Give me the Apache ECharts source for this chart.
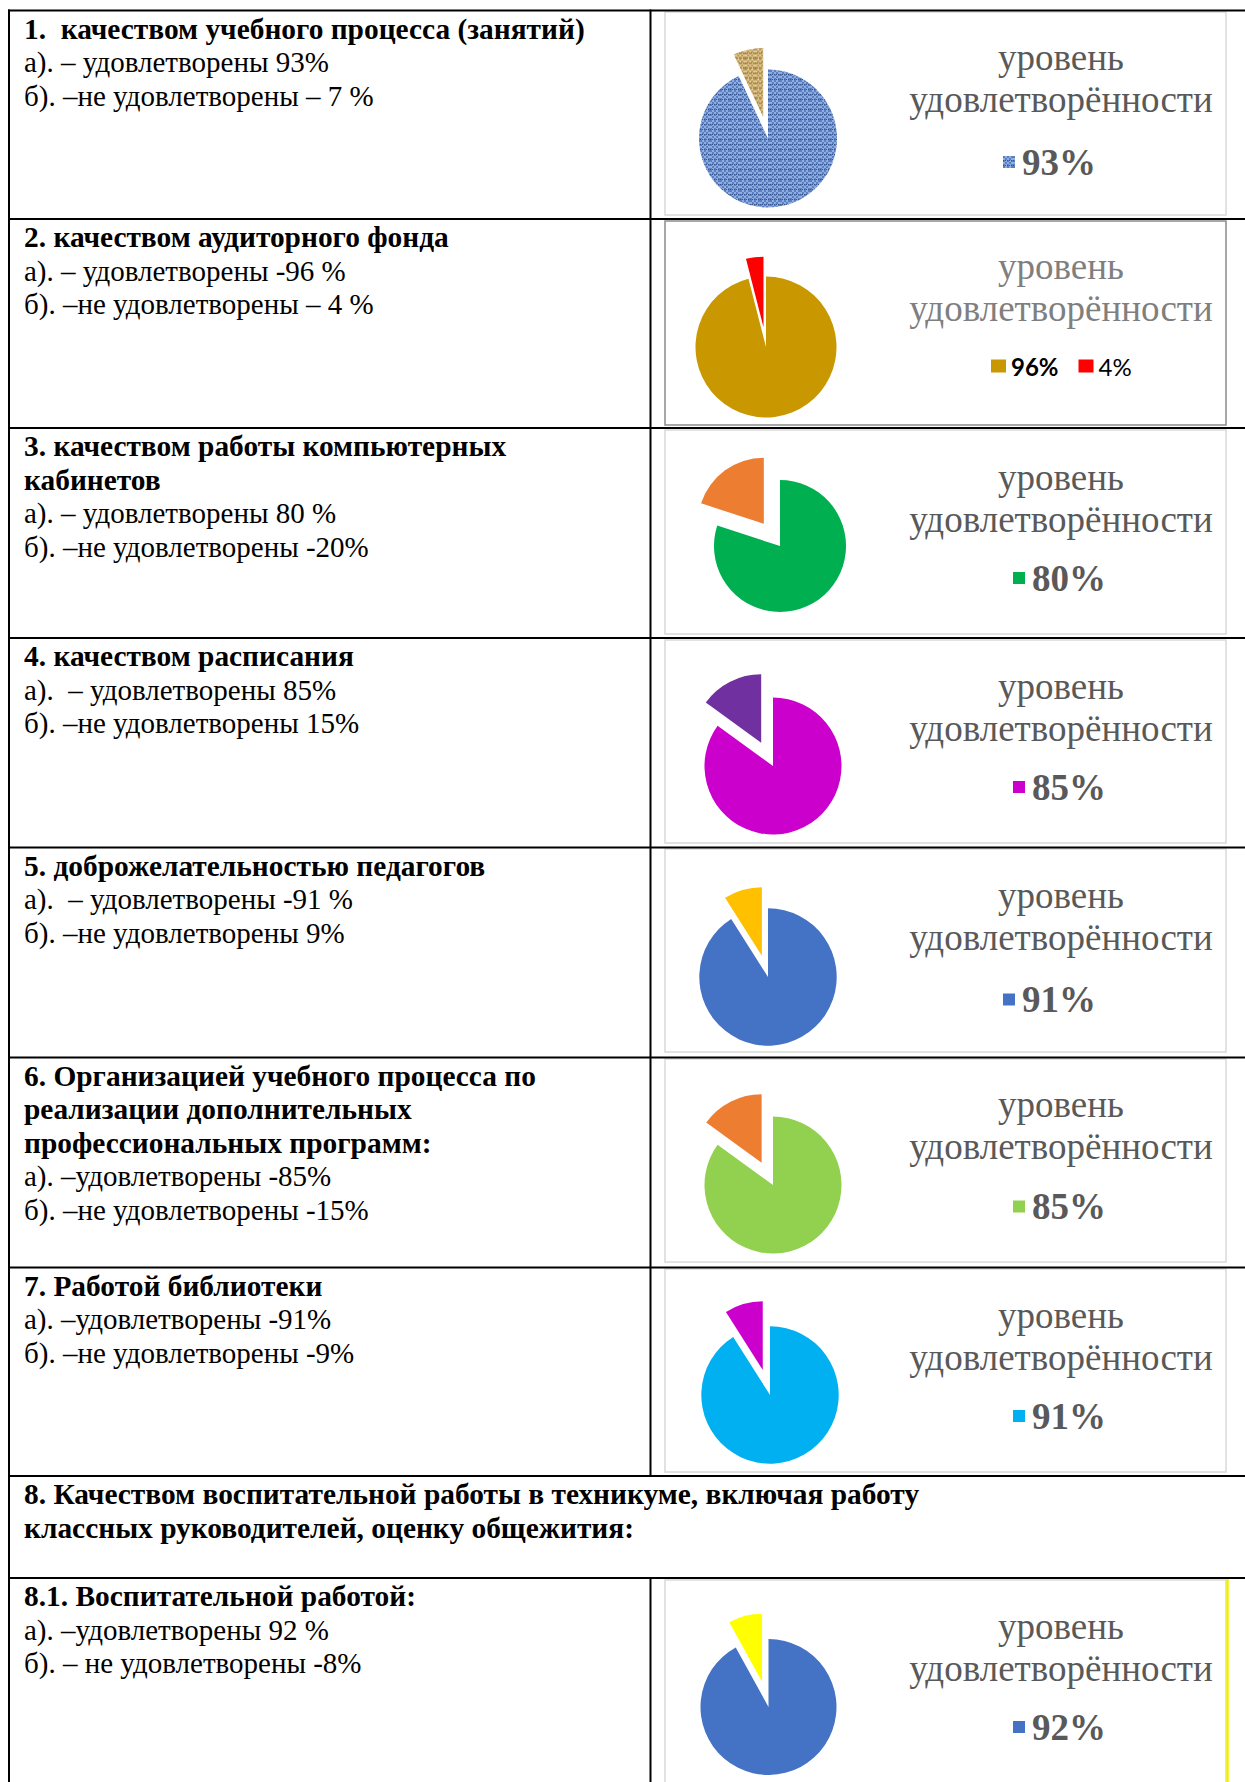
<!DOCTYPE html>
<html>
<head>
<meta charset="utf-8">
<script src="https://cdn.jsdelivr.net/npm/echarts@6/dist/echarts.min.js"></script>
<style>
html, body { margin: 0; padding: 0; background: #fff; }
#main { width: 1245px; height: 1782px; }
</style>
</head>
<body>
<div id="main"></div>
<script>
// values of the 8 pies (satisfied / not satisfied, %)
var satisfied = [93, 96, 80, 85, 91, 85, 91, 92];
var unsatisfied = [7, 4, 20, 15, 9, 15, 9, 8];
var okColors = ['weaveBlue', '#c99700', '#00b050', '#cc00cc', '#4472c4', '#92d050', '#00b0f0', '#4472c4'];
var badColors = ['weaveTan', '#ff0000', '#ed7d31', '#7030a0', '#ffc000', '#ed7d31', '#cc00cc', '#ffff00'];
var chartTitle = 'уровень\nудовлетворённости';

// left column texts: [text, bold]
var cellTexts = [
    [['1.  качеством учебного процесса (занятий)', 1], ['а). – удовлетворены 93%', 0], ['б). –не удовлетворены – 7 %', 0]],
    [['2. качеством аудиторного фонда', 1], ['а). – удовлетворены -96 %', 0], ['б). –не удовлетворены – 4 %', 0]],
    [['3. качеством работы компьютерных', 1], ['кабинетов', 1], ['а). – удовлетворены 80 %', 0], ['б). –не удовлетворены -20%', 0]],
    [['4. качеством расписания', 1], ['а).  – удовлетворены 85%', 0], ['б). –не удовлетворены 15%', 0]],
    [['5. доброжелательностью педагогов', 1], ['а).  – удовлетворены -91 %', 0], ['б). –не удовлетворены 9%', 0]],
    [['6. Организацией учебного процесса по', 1], ['реализации дополнительных', 1], ['профессиональных программ:', 1], ['а). –удовлетворены -85%', 0], ['б). –не удовлетворены -15%', 0]],
    [['7. Работой библиотеки', 1], ['а). –удовлетворены -91%', 0], ['б). –не удовлетворены -9%', 0]],
    [['8. Качеством воспитательной работы в техникуме, включая работу', 1], ['классных руководителей, оценку общежития:', 1]],
    [['8.1. Воспитательной работой:', 1], ['а). –удовлетворены 92 %', 0], ['б). – не удовлетворены -8%', 0]]
];

// layout
var serif = "'Liberation Serif', serif";
var rowLines = [10.5, 219, 428, 638, 847.5, 1057.5, 1267.5, 1476, 1578];
var boxTops = [12, 221, 430, 640, 849, 1059, 1269, 1580];
var boxBottoms = [215, 425, 634, 843, 1052, 1262, 1472, 1800];
var pieCenters = [[768, 138.5], [766, 347], [780, 546], [773, 766], [768, 977], [773, 1185], [770, 1395], [768.5, 1707]];
var pieRadius = [69, 70.5, 66, 68.5, 68.7, 68.5, 68.7, 68];
var pieOffsets = [22, 20, 27.5, 26, 22, 25, 26, 26];
var titleTops = [36, 245, 456, 665, 874, 1083, 1294, 1605];
var legendMid = [162, 366, 578, 787, 999.5, 1206.5, 1416, 1727];
var legendLeft = [1003, 991, 1013, 1013, 1003, 1013, 1013, 1013];

function weave(light, mid, dark) {
    var c = document.createElement('canvas');
    c.width = 10; c.height = 10;
    var g = c.getContext('2d');
    for (var y = 0; y < 10; y++) {
        for (var x = 0; x < 10; x++) {
            var t = ((x >> 1) + (y >> 1)) % 2;
            g.fillStyle = (y % 5 === 4 && x % 2 === 0) ? dark : (t ? light : mid);
            g.fillRect(x, y, 1, 1);
        }
    }
    return { image: c, repeat: 'repeat', imageWidth: 10, imageHeight: 10 };
}
var patterns = {
    weaveBlue: weave('#8eaee2', '#5b7fc1', '#34538f'),
    weaveTan: weave('#e3cc93', '#b8975a', '#7a5f30')
};
function col(c) { return patterns[c] || c; }

var graphics = [];
rowLines.forEach(function (y) {
    graphics.push({ type: 'line', shape: { x1: 8, y1: y, x2: 1245, y2: y }, style: { stroke: '#000', lineWidth: 2 } });
});
graphics.push({ type: 'line', shape: { x1: 9, y1: 9.5, x2: 9, y2: 1782 }, style: { stroke: '#000', lineWidth: 2 } });
graphics.push({ type: 'line', shape: { x1: 650.5, y1: 9.5, x2: 650.5, y2: 1476 }, style: { stroke: '#000', lineWidth: 2 } });
graphics.push({ type: 'line', shape: { x1: 650.5, y1: 1578, x2: 650.5, y2: 1782 }, style: { stroke: '#000', lineWidth: 2 } });

boxTops.forEach(function (t, i) {
    graphics.push({
        type: 'rect', z: -1,
        shape: { x: 665, y: t, width: 561, height: boxBottoms[i] - t },
        style: { fill: '#fff', stroke: i === 1 ? '#8c8c8c' : '#d9d9d9', lineWidth: 1.5 }
    });
});
graphics.push({ type: 'line', shape: { x1: 1227.5, y1: 1579, x2: 1227.5, y2: 1782 }, style: { stroke: '#f5f000', lineWidth: 2.5 } });

cellTexts.forEach(function (lines, r) {
    lines.forEach(function (ln, k) {
        graphics.push({
            type: 'text',
            style: {
                text: ln[0], x: 24, y: rowLines[r] + 18 + k * 33.6,
                fill: '#000', fontFamily: serif,
                fontSize: ln[1] ? 29.4 : 29, fontWeight: ln[1] ? 'bold' : 'normal', verticalAlign: 'middle'
            }
        });
    });
});

var labelOf = {};
satisfied.forEach(function (v, i) { labelOf['ok' + i] = v + '%'; labelOf['no' + i] = unsatisfied[i] + '%'; });

var titles = titleTops.map(function (t, i) {
    return {
        text: chartTitle, left: 1061, top: t, textAlign: 'center', padding: 0,
        textStyle: {
            fontFamily: serif, fontSize: 37, fontWeight: 'normal',
            lineHeight: 42, color: i === 1 ? '#7f7f7f' : '#595959'
        }
    };
});

var legends = legendMid.map(function (m, i) {
    if (i === 1) {
        return {
            left: legendLeft[i], top: m - 14, padding: 0, itemGap: 20, icon: 'rect',
            itemWidth: 15, itemHeight: 13, selectedMode: false, orient: 'horizontal',
            formatter: function (n) { return labelOf[n]; },
            textStyle: { fontFamily: 'Lato', fontSize: 24, color: '#000', lineHeight: 28 },
            data: [{ name: 'ok1', textStyle: { fontWeight: 'bold' } }, { name: 'no1' }]
        };
    }
    return {
        left: legendLeft[i], top: m - 20, padding: 0, icon: 'rect',
        itemWidth: 12, itemHeight: 12, itemGap: 10, selectedMode: false,
        formatter: function (n) { return labelOf[n]; },
        textStyle: { fontFamily: serif, fontSize: 37, fontWeight: 'bold', color: '#595959', lineHeight: 40, padding: [0, 0, 0, 2] },
        data: ['ok' + i]
    };
});

var series = satisfied.map(function (v, i) {
    return {
        type: 'pie',
        center: pieCenters[i],
        radius: pieRadius[i],
        startAngle: 90,
        clockwise: true,
        selectedMode: 'single',
        selectedOffset: pieOffsets[i],
        silent: true,
        label: { show: false },
        labelLine: { show: false },
        itemStyle: { borderWidth: 0 },
        select: { itemStyle: { borderWidth: 0 } },
        data: [
            { name: 'ok' + i, value: v, itemStyle: { color: col(okColors[i]) } },
            { name: 'no' + i, value: unsatisfied[i], selected: true, itemStyle: { color: col(badColors[i]) } }
        ]
    };
});

var myChart = echarts.init(document.getElementById('main'), null, { renderer: 'svg' });
myChart.setOption({
    animation: false,
    backgroundColor: '#fff',
    title: titles,
    legend: legends,
    graphic: graphics,
    series: series
});
</script>
</body>
</html>
